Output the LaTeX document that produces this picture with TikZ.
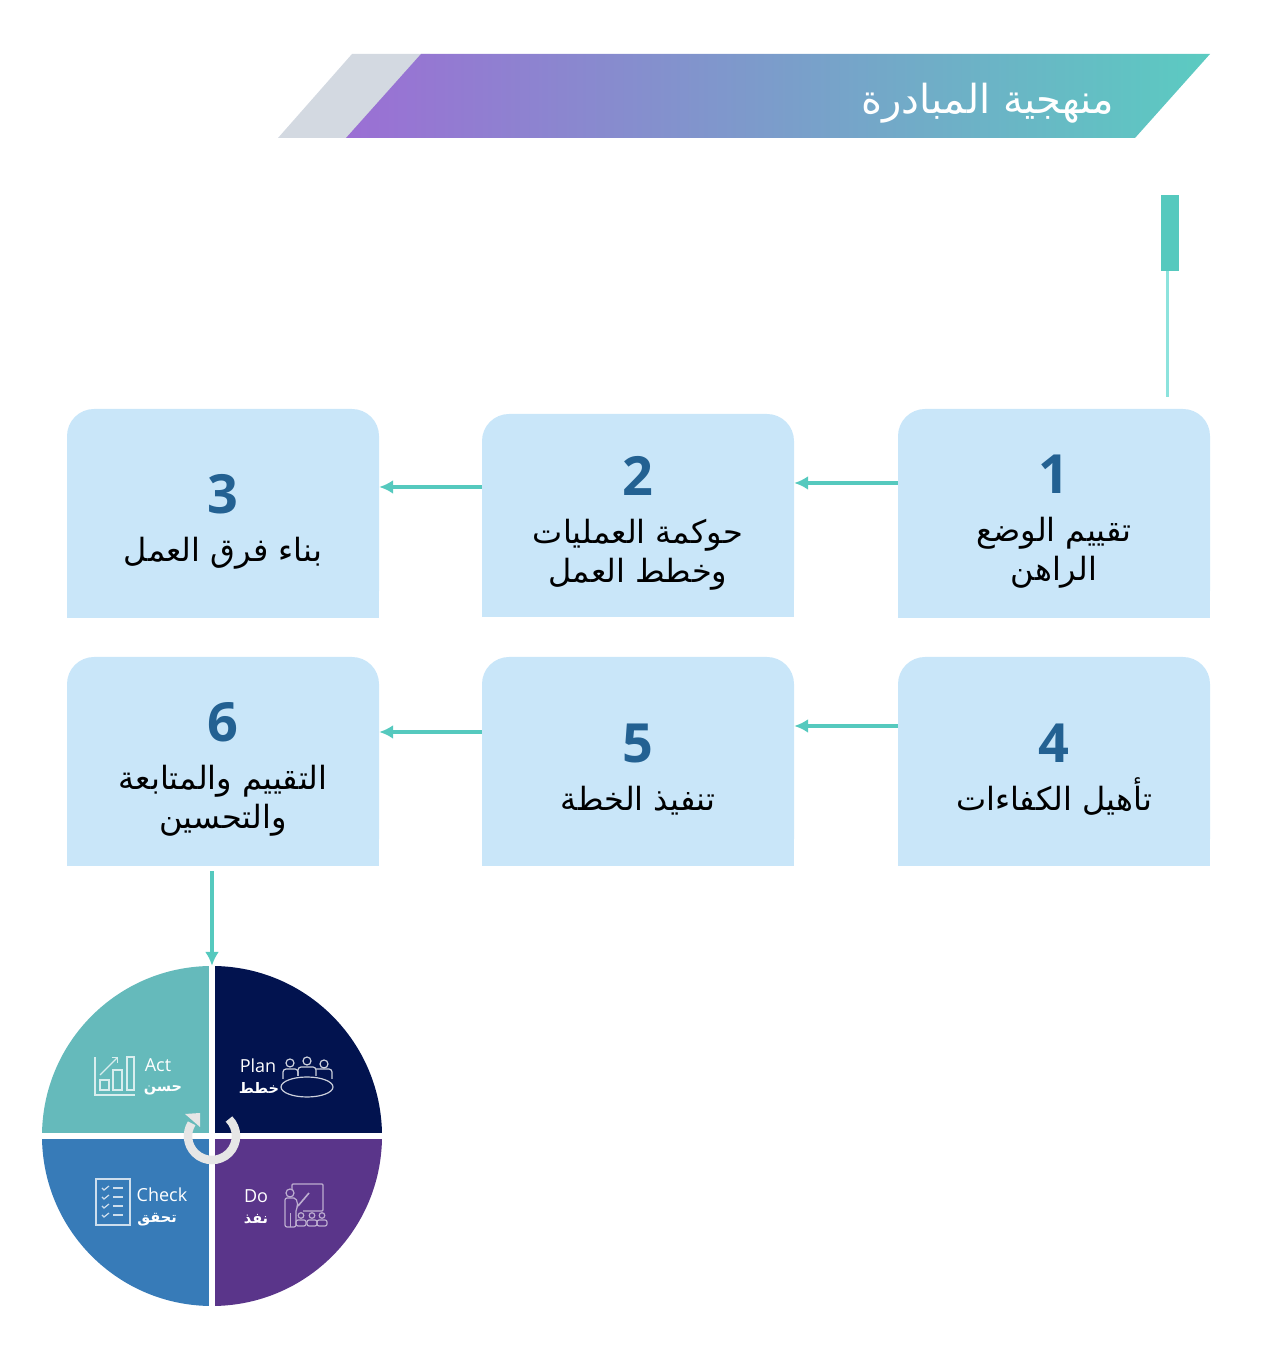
\documentclass[tikz,border=0pt]{standalone}
\usepackage{fontspec}
\usepackage{xcolor}
\usetikzlibrary{arrows.meta,backgrounds}
\TeXXeTstate=1
\setmainfont{Open Sans}
\newfontfamily\arabicfont[Script=Arabic]{DejaVu Sans}
\definecolor{boxblue}{HTML}{C9E6F9}
\definecolor{flowteal}{HTML}{55C9BE}
\definecolor{numblue}{HTML}{236192}
\definecolor{planblue}{HTML}{02134F}
\definecolor{dopurple}{HTML}{5A358A}
\definecolor{checkblue}{HTML}{377BB8}
\definecolor{actteal}{HTML}{65BABB}
\newcommand{\artext}[1]{{\arabicfont\beginR #1\endR}}
\newcommand{\stepnum}[1]{\rule{0pt}{55pt}{\fontsize{54}{54}\selectfont\bfseries\color{numblue}#1}}
\tikzset{
  stepbox/.style={fill=boxblue, rounded corners=27pt, minimum width=312pt, minimum height=209pt,
    inner sep=0pt, align=center, font=\fontsize{32}{39}\selectfont},
  flowarrow/.style={draw=flowteal, line width=4pt, -{Latex[length=14pt,width=14pt]}},
  wheellabel/.style={text=white, inner sep=0pt, font=\fontsize{18}{18}\selectfont},
  wheelarabic/.style={text=white, inner sep=0pt, font=\fontsize{14.5}{15}\selectfont\bfseries},
  iconline/.style={line width=1.2pt}
}
\begin{document}
\begin{tikzpicture}[x=1pt,y=1pt]
  \useasboundingbox (0,0) rectangle (1280,1365);
  % Title band
  \fill[fill={rgb,255:red,211;green,217;blue,225}] (278,1227) -- (352,1311) -- (430,1311) -- (356,1227) -- cycle;
  \shade[left color={rgb,255:red,155;green,111;blue,212}, middle color={rgb,255:red,140;green,167;blue,207},
    right color={rgb,255:red,91;green,203;blue,193}] (346,1227) -- (421,1311) -- (1210,1311) -- (1135,1227) -- cycle;
  \node[text=white, inner sep=0pt, font=\fontsize{40}{40}\selectfont] (title) at (988,1262) {\artext{منهجية المبادرة}};
  % Start marker
  \node[fill=flowteal, minimum width=18pt, minimum height=76pt, inner sep=0pt] (bar) at (1170,1132) {};
  \coordinate (barend) at (1167,968);
  \draw[line width=3pt, color={rgb,255:red,140;green,227;blue,221}] ([xshift=-3pt]bar.south) -- (barend);
  % Steps
  \node[stepbox] (b1) at (1054,851.5) {\stepnum{1}\\[9pt]\artext{تقييم الوضع}\\\artext{الراهن}};
  \node[stepbox, minimum height=203pt] (b2) at (638,849.5) {\stepnum{2}\\[9pt]\artext{حوكمة العمليات}\\\artext{وخطط العمل}};
  \node[stepbox] (b3) at (223,851.5) {\stepnum{3}\\[9pt]\artext{بناء فرق العمل}};
  \node[stepbox] (b4) at (1054,603.5) {\stepnum{4}\\[9pt]\artext{تأهيل الكفاءات}};
  \node[stepbox] (b5) at (638,603.5) {\stepnum{5}\\[9pt]\artext{تنفيذ الخطة}};
  \node[stepbox] (b6) at (223,603.5) {\stepnum{6}\\[9pt]\artext{التقييم والمتابعة}\\\artext{والتحسين}};
  % Square off the lower corners
  \begin{scope}[on background layer]
    \foreach \n in {b1,b2,b3,b4,b5,b6}
      \fill[boxblue] (\n.west) rectangle (\n.south east);
  \end{scope}
  % PDCA wheel
  \node[circle, minimum size=340pt, inner sep=0pt] (wheel) at (212,229) {};
  \fill[planblue] (wheel.center) -- ++(0,170) arc[start angle=90,end angle=0,radius=170] -- cycle;
  \fill[dopurple] (wheel.center) -- ++(170,0) arc[start angle=0,end angle=-90,radius=170] -- cycle;
  \fill[checkblue] (wheel.center) -- ++(0,-170) arc[start angle=-90,end angle=-180,radius=170] -- cycle;
  \fill[actteal] (wheel.center) -- ++(-170,0) arc[start angle=180,end angle=90,radius=170] -- cycle;
  \draw[white, line width=6pt, shorten <=-2pt, shorten >=-2pt] (wheel.north) -- (wheel.south);
  \draw[white, line width=6pt, shorten <=-2pt, shorten >=-2pt] (wheel.west) -- (wheel.east);
  % Turning arrow
  \draw[color={rgb,255:red,230;green,230;blue,230}, line width=8.5pt] (wheel.center) ++(45:24)
    arc[start angle=45,end angle=-212,radius=24];
  \fill[color={rgb,255:red,230;green,230;blue,230}] (185,251) -- (200,252) -- (200,238) -- cycle;
  % Wheel labels
  \node[wheellabel] (plan) at (258,299) {Plan};
  \node[wheelarabic] (plan2) at (259,277) {\artext{خطط}};
  \node[wheellabel] (act) at (158,300) {Act};
  \node[wheelarabic] (act2) at (163,275) {\artext{حسن}};
  \node[wheellabel] (do) at (256,169) {Do};
  \node[wheelarabic] (do2) at (256,146) {\artext{نفذ}};
  \node[wheellabel] (check) at (162,170) {Check};
  \node[wheelarabic] (check2) at (157,145) {\artext{تحقق}};
  % Plan icon
  \begin{scope}[iconline, draw=white!80!planblue]
    \draw (307,278) ellipse[x radius=26, y radius=10];
    \foreach \x/\y in {290/302,324/301,307/304}
      \draw (\x,\y) circle[radius=4];
    \draw[rounded corners=3pt] (283,286) -- (283,296) -- (298,296) -- (298,289);
    \draw[rounded corners=3pt] (298,289) -- (298,298) -- (316,298) -- (316,289);
    \draw[rounded corners=3pt] (316,296) -- (332,296) -- (332,286);
  \end{scope}
  % Act icon
  \begin{scope}[iconline, draw=white!75!actteal]
    \draw (95,308) -- (95,270) -- (135,270);
    \draw (100,275) rectangle (109,285);
    \draw (113,275) rectangle (122,295);
    \draw (127,275) rectangle (134,308);
    \draw[-{Straight Barb[length=4pt]}] (100,290) -- (118,308);
  \end{scope}
  % Check icon
  \begin{scope}[iconline, draw=white!75!checkblue]
    \draw (96,140) rectangle (130,186);
    \foreach \y in {177,168,159,150} {
      \draw (102,\y) -- (104,\y-2) -- (109,\y+2);
      \draw (113,\y) -- (123,\y);
    }
  \end{scope}
  % Do icon
  \begin{scope}[iconline, draw=white!60!dopurple]
    \draw[rounded corners=1pt] (292,175) -- (292,181) -- (323,181) -- (323,154) -- (303,154);
    \draw (290,172) circle[radius=4];
    \draw[rounded corners=2pt] (285,138) -- (285,167) -- (296,167) -- (298,159) -- (296,156) -- (296,138) -- cycle;
    \draw (290.5,138) -- (290.5,152);
    \draw[line width=1.6pt] (298,159) -- (309,172);
    \foreach \x in {301,312,322} {
      \draw (\x,149.5) circle[radius=2.8];
      \draw[rounded corners=2pt] (\x-5,139) -- (\x-5,145) -- (\x+5,145) -- (\x+5,139) -- cycle;
    }
  \end{scope}
  % Connectors
  \draw[flowarrow] ([yshift=30.5pt]b1.west) -- ([yshift=32.5pt]b2.east);
  \draw[flowarrow] ([yshift=28.5pt]b2.west) -- ([yshift=26.5pt]b3.east);
  \draw[flowarrow] ([yshift=35.5pt]b4.west) -- ([yshift=35.5pt]b5.east);
  \draw[flowarrow] ([yshift=29.5pt]b5.west) -- ([yshift=29.5pt]b6.east);
  \draw[flowarrow, shorten <=5pt] (wheel.north |- b6.south) -- (wheel.north);
\end{tikzpicture}
\end{document}
